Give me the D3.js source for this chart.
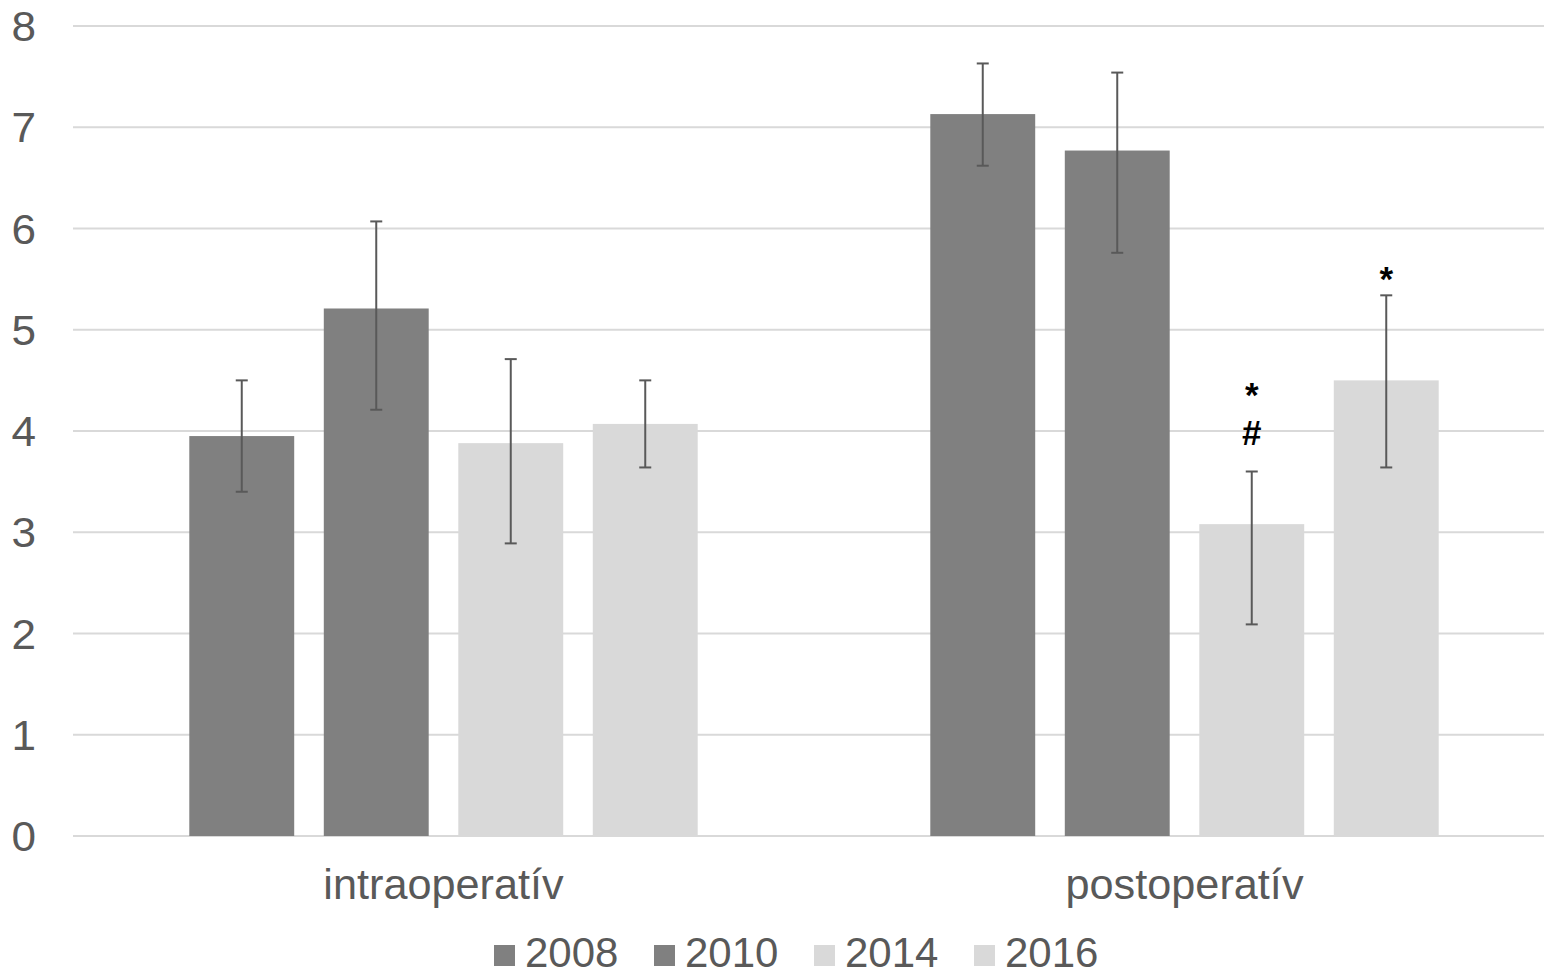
<!DOCTYPE html>
<html>
<head>
<meta charset="utf-8">
<script src="https://cdn.jsdelivr.net/npm/d3@7"></script>
<style>
  body { margin: 0; background: #fff; }
  svg { display: block; font-family: "Liberation Sans", Arial, sans-serif; }
</style>
</head>
<body>
<svg id="chart" width="1544" height="976"></svg>
<script>
// data
const categories = ["intraoperatív", "postoperatív"];
const series = ["2008", "2010", "2014", "2016"];
const seriesColors = ["#808080", "#808080", "#d9d9d9", "#d9d9d9"];
// values[series][category]
const values = [
  [3.95, 7.13],
  [5.21, 6.77],
  [3.88, 3.08],
  [4.07, 4.50]
];
const errLow = [
  [3.40, 6.62],
  [4.21, 5.76],
  [2.89, 2.09],
  [3.64, 3.64]
];
const errHigh = [
  [4.50, 7.63],
  [6.07, 7.54],
  [4.71, 3.60],
  [4.50, 5.34]
];
const yTicks = [0, 1, 2, 3, 4, 5, 6, 7, 8];
// significance marks: series index, category index, mark, y value of baseline
const marks = [
  { s: 2, c: 1, text: "*", v: 4.24 },
  { s: 2, c: 1, text: "#", v: 3.86 },
  { s: 3, c: 1, text: "*", v: 5.38 }
];

const svg = d3.select("#chart");
const plot = { left: 73, right: 1555, top: 26, bottom: 836 };

const y = d3.scaleLinear().domain([0, 8]).range([plot.bottom, plot.top]);

const x0 = d3.scaleBand()
  .domain(categories)
  .range([plot.left, plot.right])
  .padding(0);

const groupW = x0.bandwidth();
const x1 = d3.scaleBand()
  .domain(series)
  .range([101.5, groupW - 101.5])
  .paddingInner(0.22)
  .paddingOuter(0.11);

// text in the source is a touch wider than Liberation Sans
function stretchedText(g, x, yPos, size, sx, anchor) {
  return g.append("text")
    .attr("transform", `translate(${x},${yPos}) scale(${sx},1)`)
    .attr("text-anchor", anchor)
    .style("font-size", size + "px")
    .style("fill", "#595959");
}

// gridlines
svg.append("g")
  .selectAll("line")
  .data(yTicks)
  .join("line")
  .attr("x1", plot.left)
  .attr("x2", plot.right)
  .attr("y1", d => y(d))
  .attr("y2", d => y(d))
  .attr("stroke", "#d9d9d9")
  .attr("stroke-width", 2);

// y tick labels
const yl = svg.append("g");
yTicks.forEach(t => {
  stretchedText(yl, 36, y(t) + 15, 42, 1.05, "end").text(t);
});

// bars
const rows = [];
series.forEach((s, si) => {
  categories.forEach((c, ci) => {
    rows.push({ s, si, c, ci, v: values[si][ci], lo: errLow[si][ci], hi: errHigh[si][ci] });
  });
});

svg.append("g")
  .selectAll("rect")
  .data(rows)
  .join("rect")
  .attr("x", d => x0(d.c) + x1(d.s))
  .attr("width", x1.bandwidth())
  .attr("y", d => y(d.v))
  .attr("height", d => y(0) - y(d.v))
  .attr("fill", d => seriesColors[d.si]);

// error bars
const eb = svg.append("g")
  .attr("stroke", "#595959")
  .attr("stroke-width", 2);
const cx = d => x0(d.c) + x1(d.s) + x1.bandwidth() / 2;

eb.selectAll("line.v")
  .data(rows)
  .join("line")
  .attr("class", "v")
  .attr("x1", cx).attr("x2", cx)
  .attr("y1", d => y(d.lo)).attr("y2", d => y(d.hi));

eb.selectAll("line.hi")
  .data(rows)
  .join("line")
  .attr("class", "hi")
  .attr("x1", d => cx(d) - 6).attr("x2", d => cx(d) + 6)
  .attr("y1", d => y(d.hi)).attr("y2", d => y(d.hi));

eb.selectAll("line.lo")
  .data(rows)
  .join("line")
  .attr("class", "lo")
  .attr("x1", d => cx(d) - 6).attr("x2", d => cx(d) + 6)
  .attr("y1", d => y(d.lo)).attr("y2", d => y(d.lo));

// significance marks
svg.append("g")
  .selectAll("text")
  .data(marks)
  .join("text")
  .attr("x", d => x0(categories[d.c]) + x1(series[d.s]) + x1.bandwidth() / 2)
  .attr("y", d => y(d.v))
  .attr("text-anchor", "middle")
  .style("font-size", "35px")
  .style("font-weight", "bold")
  .style("fill", "#000")
  .text(d => d.text);

// category labels
const cl = svg.append("g");
categories.forEach(c => {
  stretchedText(cl, x0(c) + groupW / 2, 899, 42, 1.03, "middle").text(c);
});

// legend
const legendX = [494, 654, 814, 974];
const lg = svg.append("g");
series.forEach((s, i) => {
  lg.append("rect")
    .attr("x", legendX[i])
    .attr("y", 945)
    .attr("width", 21)
    .attr("height", 21)
    .attr("fill", seriesColors[i]);
  stretchedText(lg, legendX[i] + 31, 967, 42, 1.0, "start").text(s);
});
</script>
</body>
</html>
